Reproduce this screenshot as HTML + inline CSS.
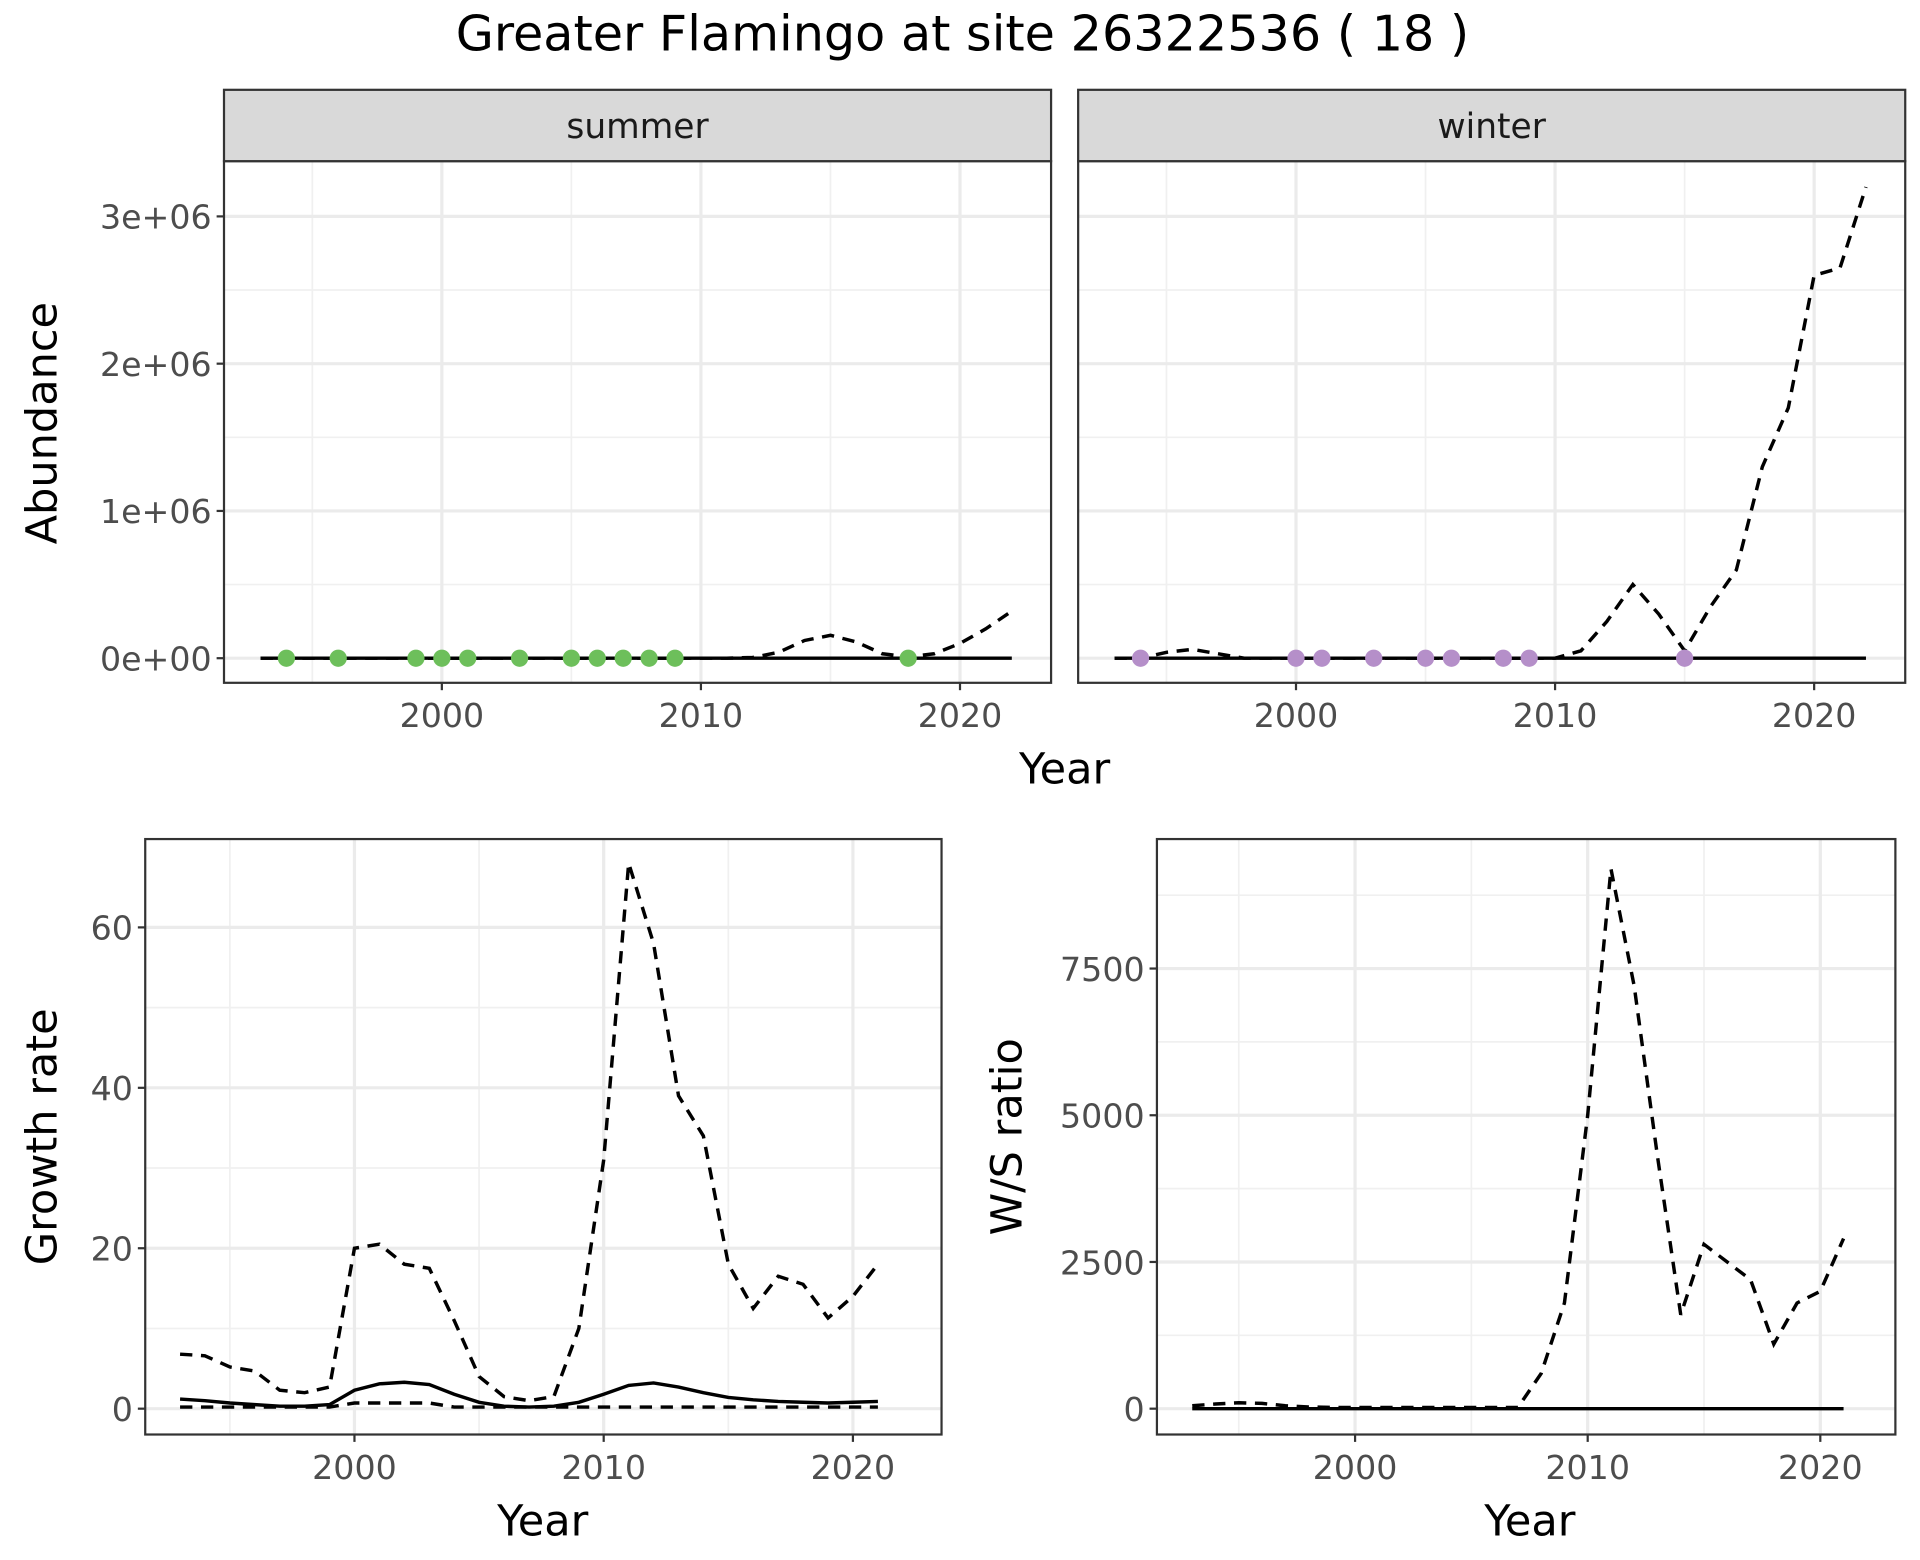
<!DOCTYPE html>
<html><head><meta charset="utf-8">
<style>
html,body{margin:0;padding:0;background:#fff;}
svg{display:block;font-family:"DejaVu Sans","Liberation Sans",sans-serif;}
</style></head>
<body>
<svg id="s" width="1920" height="1560" viewBox="0 0 1560 1268" preserveAspectRatio="none" xmlns="http://www.w3.org/2000/svg">
<rect width="1560" height="1268" fill="#fff"/>
<text x="782" y="41" font-size="40" text-anchor="middle" fill="#000">Greater Flamingo at site 26322536 ( 18 )</text>
</svg>
<script>
const S=document.getElementById('s');
let h='';
function line(x1,y1,x2,y2,c,w,extra){h+=`<line x1="${x1}" y1="${y1}" x2="${x2}" y2="${y2}" stroke="${c}" stroke-width="${w}" ${extra||''}/>`;}
function txt(x,y,t,sz,anc,col,extra){h+=`<text x="${x}" y="${y}" font-size="${sz}" text-anchor="${anc}" fill="${col}" ${extra||''}>${t}</text>`;}
function panel(p){
  const {x0,x1,y0,y1,fx,fy,xticks,yticks,yminor,xminor}=p;
  h+=`<rect x="${x0}" y="${y0}" width="${x1-x0}" height="${y1-y0}" fill="#fff"/>`;
  xminor.forEach(v=>line(fx(v),y0,fx(v),y1,'#f0f0f0',1.4));
  yminor.forEach(v=>line(x0,fy(v),x1,fy(v),'#f0f0f0',1.4));
  xticks.forEach(v=>line(fx(v),y0,fx(v),y1,'#ebebeb',2.6));
  yticks.forEach(v=>line(x0,fy(v),x1,fy(v),'#ebebeb',2.6));
}
function frame(p,xlab){
  const {x0,x1,y0,y1,fx,fy,xticks,yticks,ylabels}=p;
  h+=`<rect x="${x0}" y="${y0}" width="${x1-x0}" height="${y1-y0}" fill="none" stroke="#333" stroke-width="1.8"/>`;
  xticks.forEach(v=>{line(fx(v),y1,fx(v),y1+6,'#333',1.8);if(xlab)txt(fx(v),y1+36,v,27,'middle','#4d4d4d');});
  if(ylabels) yticks.forEach((v,i)=>{line(x0-6,fy(v),x0,fy(v),'#333',1.8);txt(x0-10,fy(v)+10,ylabels[i],27,'end','#4d4d4d');});
}
function path(pts,fx,fy,dash){
  h+=`<polyline points="${pts.map(p=>fx(p[0]).toFixed(1)+','+fy(p[1]).toFixed(1)).join(' ')}" fill="none" stroke="#000" stroke-width="2.8" ${dash?'stroke-dasharray="10,7"':''}/>`;
}
const yrs=[];for(let y=1993;y<=2022;y++)yrs.push(y);
const fyT=v=>535-v*119.7e-6;
const topY=[0,1e6,2e6,3e6];
function topPanel(x0,x1,x2000,dashPts,dots,col,showY,strip){
  const fx=v=>x2000+(v-2000)*21.05;
  const p={x0,x1,y0:131,y1:555,fx,fy:fyT,xticks:[2000,2010,2020],yticks:topY,ylabels:showY?['0e+00','1e+06','2e+06','3e+06']:null,
    yminor:[5e5,1.5e6,2.5e6],xminor:[1995,2005,2015]};
  panel(p);
  path(yrs.map(y=>[y,0]),fx,fyT,false);
  path(dashPts,fx,fyT,true);
  dots.forEach(y=>h+=`<circle cx="${fx(y)}" cy="${fyT(0)}" r="7" fill="${col}"/>`);
  frame(p,true);
  h+=`<rect x="${x0}" y="73" width="${x1-x0}" height="58" fill="#d9d9d9" stroke="#333" stroke-width="1.8"/>`;
  txt((x0+x1)/2,112,strip,28,'middle','#1a1a1a');
}
const sumD=yrs.map(y=>{const m={2012:5e3,2013:4e4,2014:1.2e5,2015:1.55e5,2016:1.1e5,2017:3e4,2018:1e4,2019:3e4,2020:1e5,2021:2e5,2022:3.2e5};return [y,m[y]||0];});
topPanel(182,854,359,sumD,[1994,1996,1999,2000,2001,2003,2005,2006,2007,2008,2009,2018],'#6dbf5b',true,'summer');
const winD=yrs.map(y=>{const m={1995:4e4,1996:6e4,1997:3e4,2011:5e4,2012:2.5e5,2013:5e5,2014:3e5,2015:5e4,2016:3.5e5,2017:6e5,2018:1.3e6,2019:1.7e6,2020:2.6e6,2021:2.65e6,2022:3.2e6};return [y,m[y]||0];});
topPanel(876,1548,1053,winD,[1994,2000,2001,2003,2005,2006,2008,2009,2015],'#b58fc9',false,'winter');
txt(865,637,'Year',35,'middle','#000');
txt(46,344,'Abundance',35,'middle','#000','transform="rotate(-90 46 344)"');
{
 const fx=v=>288+(v-2000)*20.25, fy=v=>1145-v*6.52;
 const p={x0:118,x1:765,y0:682,y1:1166,fx,fy,xticks:[2000,2010,2020],yticks:[0,20,40,60],ylabels:['0','20','40','60'],yminor:[10,30,50],xminor:[1995,2005,2015]};
 panel(p);
 const gy=yrs.slice(0,29);
 const d=[6.8,6.6,5.2,4.7,2.3,2.0,2.7,20,20.5,18,17.5,11,4,1.5,1.0,1.5,10,31,68,58,39,34,18,12.5,16.5,15.5,11.3,14,18];
 const s=[1.2,1.0,0.7,0.5,0.3,0.3,0.5,2.3,3.1,3.3,3.0,1.8,0.8,0.3,0.2,0.3,0.8,1.8,2.9,3.2,2.7,2.0,1.4,1.1,0.9,0.8,0.7,0.8,0.9];
 const l=gy.map(y=>(y>=2000&&y<=2003)?0.7:0.2);
 path(gy.map((y,i)=>[y,d[i]]),fx,fy,true);
 path(gy.map((y,i)=>[y,l[i]]),fx,fy,true);
 path(gy.map((y,i)=>[y,s[i]]),fx,fy,false);
 frame(p,true);
 txt(441,1248,'Year',35,'middle','#000');
 txt(46,924,'Growth rate',35,'middle','#000','transform="rotate(-90 46 924)"');
}
{
 const fx=v=>1101+(v-2000)*18.9, fy=v=>1145-v*0.0477;
 const p={x0:940,x1:1540,y0:682,y1:1166,fx,fy,xticks:[2000,2010,2020],yticks:[0,2500,5000,7500],ylabels:['0','2500','5000','7500'],yminor:[1250,3750,6250,8750],xminor:[1995,2005,2015]};
 panel(p);
 const gy=yrs.slice(0,29);
 const d=[50,80,100,90,50,30,20,20,20,20,20,20,20,20,20,600,1800,5000,9200,7200,4300,1600,2800,2500,2200,1100,1800,2000,2900];
 path(gy.map((y,i)=>[y,d[i]]),fx,fy,true);
 path(gy.map(y=>[y,0]),fx,fy,false);
 frame(p,true);
 txt(1243,1248,'Year',35,'middle','#000');
 txt(830,924,'W/S ratio',35,'middle','#000','transform="rotate(-90 830 924)"');
}
S.insertAdjacentHTML('beforeend',h);
</script>
</body></html>
